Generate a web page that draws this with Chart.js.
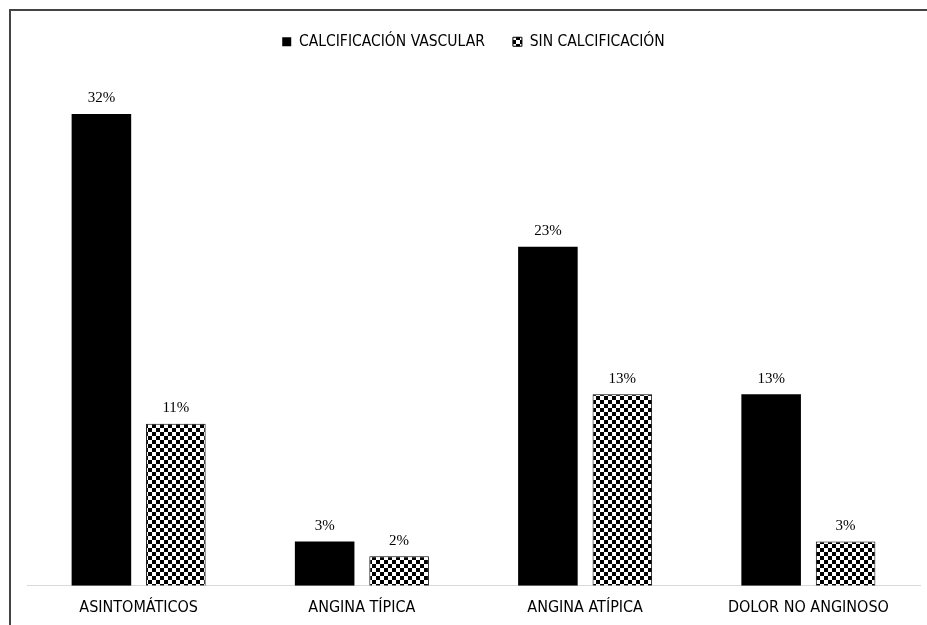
<!DOCTYPE html>
<html>
<head>
<meta charset="utf-8">
<script src="https://cdn.jsdelivr.net/npm/chart.js@4.4.1/dist/chart.umd.min.js"></script>
<style>
  html, body { margin: 0; padding: 0; background: #fff; overflow: hidden; }
  #frame {
    position: absolute; left: 9px; top: 9px; width: 1000px; height: 700px;
    border-left: 2px solid #444; border-top: 2px solid #444;
  }
  #wrap { position: absolute; left: 0; top: 0; width: 927px; height: 625px; }
</style>
</head>
<body>
<div id="frame"></div>
<div id="wrap"><canvas id="chart" width="927" height="625"></canvas></div>
<script>
// data
const categories = ['ASINTOMÁTICOS', 'ANGINA TÍPICA', 'ANGINA ATÍPICA', 'DOLOR NO ANGINOSO'];
const seriesNames = ['CALCIFICACIÓN VASCULAR', 'SIN CALCIFICACIÓN'];
const calcificacion = [32, 3, 23, 13];
const sinCalcificacion = [11, 2, 13, 3];

const labelFont = "'Liberation Sans Narrow', 'DejaVu Sans Condensed', sans-serif";

// checkered fill like the original
function makeChecker() {
    const c = document.createElement('canvas');
    c.width = 8; c.height = 8;
    const g = c.getContext('2d');
    g.fillStyle = '#fff';
    g.fillRect(0, 0, 8, 8);
    g.fillStyle = '#000';
    g.fillRect(0, 0, 4, 4);
    g.fillRect(4, 4, 4, 4);
    return g.createPattern(c, 'repeat');
}

const ctx = document.getElementById('chart').getContext('2d');
const checker = makeChecker();

// draws the "32%" labels above each bar
const valueLabels = {
    id: 'valueLabels',
    afterDatasetsDraw(chart) {
        const c = chart.ctx;
        c.save();
        c.font = "15px 'Liberation Serif', 'Times New Roman', serif";
        c.fillStyle = '#000';
        c.textAlign = 'center';
        c.textBaseline = 'bottom';
        chart.data.datasets.forEach((ds, i) => {
            chart.getDatasetMeta(i).data.forEach((bar, j) => {
                c.fillText(ds.data[j] + '%', bar.x, bar.y - 8);
            });
        });
        c.restore();
    }
};

new Chart(ctx, {
    type: 'bar',
    data: {
        labels: categories,
        datasets: [
            {
                label: seriesNames[0],
                data: calcificacion,
                backgroundColor: '#000',
                borderWidth: 0
            },
            {
                label: seriesNames[1],
                data: sinCalcificacion,
                backgroundColor: checker,
                borderColor: '#000',
                borderWidth: 1
            }
        ]
    },
    options: {
        responsive: false,
        animation: false,
        layout: { padding: { left: 27, right: 7, top: 6, bottom: -4 } },
        categoryPercentage: 0.667,
        barPercentage: 0.8,
        plugins: {
            tooltip: { enabled: false },
            legend: {
                position: 'top',
                labels: {
                    boxWidth: 9,
                    boxHeight: 9,
                    padding: 28,
                    color: '#000',
                    font: { family: labelFont, size: 15.5 }
                }
            }
        },
        scales: {
            x: {
                grid: { display: false, drawTicks: false },
                border: { display: true, color: '#d9d9d9', width: 1 },
                ticks: {
                    color: '#000',
                    padding: 12,
                    font: { family: labelFont, size: 16 }
                }
            },
            y: {
                display: false,
                min: 0,
                max: 35.7
            }
        }
    },
    plugins: [valueLabels]
});
</script>
</body>
</html>
